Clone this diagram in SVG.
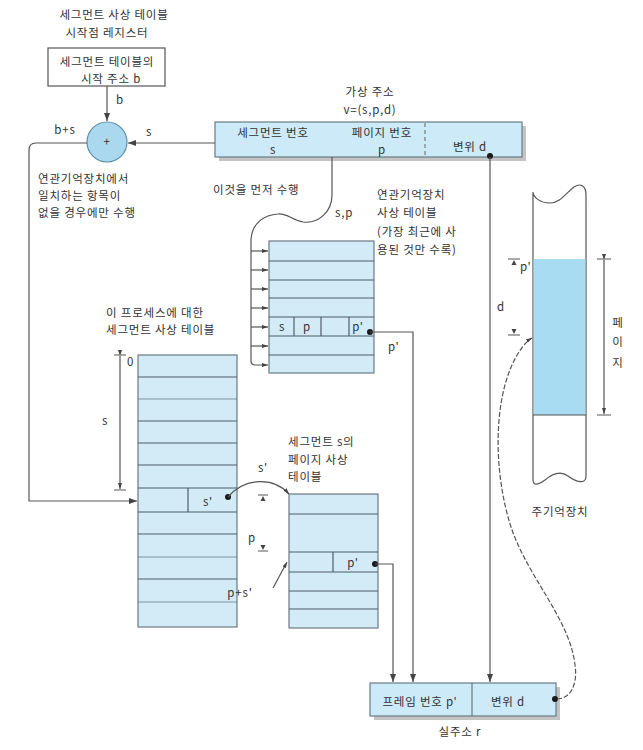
<svg xmlns="http://www.w3.org/2000/svg" width="643" height="750" viewBox="0 0 643 750">
<style>
.t{font-family:"Noto Sans CJK KR","Noto Sans",sans-serif;font-size:11.5px;letter-spacing:0.8px;fill:#333}
.tm{text-anchor:middle}
.ln{stroke:#555;stroke-width:1.2;fill:none}
.tbl{fill:#d2ebf7;stroke:#6a7a84;stroke-width:1.2}
.row{stroke:#4f5f6a;stroke-width:1.2}
.dot{fill:#1a1a1a}
.tick{stroke:#555;stroke-width:1}
.sh{fill:#c4c4c4}
</style>
<defs>
<marker id="ah" viewBox="0 0 8 6" refX="8" refY="3" markerWidth="8" markerHeight="6" markerUnits="userSpaceOnUse" orient="auto"><path d="M0,0 L8,3 L0,6 z" fill="#444"/></marker>
<marker id="ahs" viewBox="0 0 6 4" refX="6" refY="2" markerWidth="6" markerHeight="4" markerUnits="userSpaceOnUse" orient="auto"><path d="M0,0 L6,2 L0,4 z" fill="#444"/></marker>
</defs>
<rect width="643" height="750" fill="#fff"/>

<g id="register">
<text class="t tm" x="114" y="19">세그먼트 사상 테이블</text>
<text class="t tm" x="107" y="37">시작점 레지스터</text>
<rect x="48" y="48" width="117" height="38" fill="#fff" stroke="#555" stroke-width="1.2"/>
<text class="t tm" x="107" y="66">세그먼트 테이블의</text>
<text class="t tm" x="111" y="83">시작 주소 b</text>
</g>

<g id="adder">
<circle cx="107" cy="142" r="20" fill="#a9d8ef" stroke="#5d8ea6" stroke-width="1.2"/>
<text class="t tm" x="107" y="146">+</text>
<text class="t" x="38" y="183">연관기억장치에서</text>
<text class="t" x="38" y="200">일치하는 항목이</text>
<text class="t" x="38" y="217">없을 경우에만 수행</text>
</g>

<g id="virtual-address">
<text class="t tm" x="370" y="96">가상 주소</text>
<text class="t tm" x="370" y="114">v=(s,p,d)</text>
<rect class="sh" x="219" y="126" width="307" height="35"/>
<rect x="215" y="122" width="307" height="35" fill="#cceaf7" stroke="#6a7a84" stroke-width="1.2"/>
<line x1="425" y1="123" x2="425" y2="156" stroke="#666" stroke-width="1" stroke-dasharray="4,3"/>
<text class="t tm" x="273" y="137">세그먼트 번호</text>
<text class="t tm" x="273" y="154">s</text>
<text class="t tm" x="382" y="137">페이지 번호</text>
<text class="t tm" x="382" y="154">p</text>
<text class="t tm" x="470" y="151">변위 d</text>
<text class="t" x="213" y="194">이것을 먼저 수행</text>
</g>

<g id="associative-table">
<text class="t" x="377" y="199">연관기억장치</text>
<text class="t" x="377" y="217">사상 테이블</text>
<text class="t" x="377" y="236">(가장 최근에 사</text>
<text class="t" x="377" y="254">용된 것만 수록)</text>
<rect class="tbl" x="269" y="241" width="105" height="132"/>
<line class="row" x1="269" y1="261" x2="374" y2="261"/>
<line class="row" x1="269" y1="280" x2="374" y2="280"/>
<line class="row" x1="269" y1="298" x2="374" y2="298"/>
<line class="row" x1="269" y1="317" x2="374" y2="317"/>
<line class="row" x1="269" y1="336" x2="374" y2="336"/>
<line class="row" x1="269" y1="355" x2="374" y2="355"/>
<line class="row" x1="294" y1="317" x2="294" y2="336"/>
<line class="row" x1="321" y1="317" x2="321" y2="336"/>
<line class="row" x1="349" y1="317" x2="349" y2="336"/>
<text class="t tm" x="282" y="331">s</text>
<text class="t tm" x="307" y="331">p</text>
<text class="t tm" x="358" y="331">p'</text>
<circle class="dot" cx="370" cy="332" r="3"/>
</g>

<g id="segment-table">
<text class="t" x="106" y="317">이 프로세스에 대한</text>
<text class="t" x="106" y="334">세그먼트 사상 테이블</text>
<rect class="tbl" x="138" y="355" width="99" height="272"/>
<line class="row" x1="138" y1="377" x2="237" y2="377"/>
<line class="row" x1="138" y1="399" x2="237" y2="399" stroke-opacity="0.6"/>
<line class="row" x1="138" y1="421" x2="237" y2="421"/>
<line class="row" x1="138" y1="443" x2="237" y2="443"/>
<line class="row" x1="138" y1="465" x2="237" y2="465"/>
<line class="row" x1="138" y1="488" x2="237" y2="488"/>
<line class="row" x1="138" y1="512" x2="237" y2="512"/>
<line class="row" x1="138" y1="534" x2="237" y2="534"/>
<line class="row" x1="138" y1="557" x2="237" y2="557" stroke-opacity="0.6"/>
<line class="row" x1="138" y1="579" x2="237" y2="579"/>
<line class="row" x1="138" y1="602" x2="237" y2="602" stroke-opacity="0.6"/>
<line class="row" x1="188" y1="488" x2="188" y2="512"/>
<text class="t tm" x="208" y="506">s'</text>
<circle class="dot" cx="228" cy="497" r="3"/>
<line class="tick" x1="114" y1="355" x2="126" y2="355"/>
<line class="tick" x1="114" y1="490" x2="126" y2="490"/>
<line class="ln" x1="120" y1="356" x2="120" y2="489" marker-start="url(#ahs)" marker-end="url(#ahs)" stroke-width="1"/>
<text class="t" x="127" y="366">0</text>
<text class="t tm" x="105" y="425">s</text>
</g>

<g id="page-table">
<text class="t" x="288" y="446">세그먼트 s의</text>
<text class="t" x="288" y="464">페이지 사상</text>
<text class="t" x="288" y="481">테이블</text>
<rect class="tbl" x="289" y="494" width="89" height="134"/>
<line class="row" x1="289" y1="514" x2="378" y2="514"/>
<line class="row" x1="289" y1="552" x2="378" y2="552"/>
<line class="row" x1="289" y1="572" x2="378" y2="572"/>
<line class="row" x1="289" y1="591" x2="378" y2="591"/>
<line class="row" x1="289" y1="609" x2="378" y2="609"/>
<line class="row" x1="333" y1="552" x2="333" y2="572"/>
<text class="t tm" x="353" y="567">p'</text>
<circle class="dot" cx="375" cy="564" r="3"/>
<text class="t tm" x="263" y="472">s'</text>
<line class="tick" x1="258" y1="495" x2="268" y2="495"/>
<path d="M263,496 L260.5,501 L265.5,501 z" fill="#444"/>
<text class="t tm" x="252" y="542">p</text>
<path d="M263,550 L260.5,545 L265.5,545 z" fill="#444"/>
<line class="tick" x1="258" y1="551" x2="268" y2="551"/>
<text class="t tm" x="240" y="597">p+s'</text>
</g>

<g id="main-memory">
<path d="M533,192 L533,480 C533,487 540,484 545,480 C552,474 560,470 568,476 C576,482 586,485 586,476 L586,195 C586,185 580,183 574,187 C566,193 560,203 550,203 C540,203 533,197 533,192 Z" fill="#fff" stroke="#555" stroke-width="1.2"/>
<rect x="533.6" y="259" width="51.8" height="156" fill="#a8dcf2"/>
<line x1="533" y1="415" x2="586" y2="415" stroke="#555" stroke-width="1.2"/>
<line class="tick" x1="508" y1="259" x2="520" y2="259"/>
<path d="M514,260 L511.5,265 L516.5,265 z" fill="#444"/>
<text class="t" x="520" y="271">p'</text>
<text class="t" x="497" y="311">d</text>
<path d="M514,334 L511.5,329 L516.5,329 z" fill="#444"/>
<line class="tick" x1="508" y1="335" x2="520" y2="335"/>
<line class="tick" x1="597" y1="259" x2="611" y2="259"/>
<line class="tick" x1="597" y1="415" x2="611" y2="415"/>
<line class="ln" x1="604" y1="260" x2="604" y2="414" marker-start="url(#ahs)" marker-end="url(#ahs)" stroke-width="1"/>
<text class="t tm" x="618" y="327">페</text>
<text class="t tm" x="618" y="346">이</text>
<text class="t tm" x="618" y="367">지</text>
<text class="t tm" x="560" y="516">주기억장치</text>
</g>

<g id="real-address">
<rect class="sh" x="374" y="687" width="186" height="33"/>
<rect x="370" y="683" width="186" height="33" fill="#cceaf7" stroke="#6a7a84" stroke-width="1.2"/>
<line x1="472" y1="683" x2="472" y2="716" stroke="#6a7a84" stroke-width="1.2"/>
<text class="t tm" x="420" y="706">프레임 번호 p'</text>
<text class="t tm" x="508" y="706">변위 d</text>
<circle class="dot" cx="555" cy="699" r="3"/>
<text class="t tm" x="460" y="736">실주소 r</text>
</g>

<g id="connectors">
<line class="ln" x1="107" y1="86" x2="107" y2="121" marker-end="url(#ah)"/>
<text class="t" x="116" y="104">b</text>
<line class="ln" x1="215" y1="143" x2="128" y2="143" marker-end="url(#ah)"/>
<text class="t" x="146" y="136">s</text>
<text class="t tm" x="65" y="134">b+s</text>
<path class="ln" d="M87,143 L36,143 Q29,143 29,150 L29,501 L137,501" marker-end="url(#ah)"/>
<path class="ln" d="M332,157 L332,195 C332,212 318,224 303,222 C292,220 287,213 278,214 C265,215 252,222 251,240 L251,361 Q251,365 255,365 L268,365" marker-end="url(#ahs)"/>
<text class="t" x="335" y="217">s,p</text>
<line class="ln" x1="251" y1="251" x2="268" y2="251" marker-end="url(#ahs)"/>
<line class="ln" x1="251" y1="270" x2="268" y2="270" marker-end="url(#ahs)"/>
<line class="ln" x1="251" y1="289" x2="268" y2="289" marker-end="url(#ahs)"/>
<line class="ln" x1="251" y1="308" x2="268" y2="308" marker-end="url(#ahs)"/>
<line class="ln" x1="251" y1="327" x2="268" y2="327" marker-end="url(#ahs)"/>
<line class="ln" x1="251" y1="346" x2="268" y2="346" marker-end="url(#ahs)"/>
<circle class="dot" cx="490" cy="156" r="3"/>
<line class="ln" x1="490" y1="157" x2="490" y2="682" marker-end="url(#ah)"/>
<path class="ln" d="M370,332 L413,332 L413,682" marker-end="url(#ah)"/>
<text class="t" x="388" y="351">p'</text>
<path class="ln" d="M375,564 L393,564 L393,682" marker-end="url(#ah)"/>
<path class="ln" d="M228,497 C245,477 274,477 289,494" marker-end="url(#ahs)"/>
<line class="ln" x1="273" y1="588" x2="287" y2="562" marker-end="url(#ahs)"/>
<path class="ln" d="M557,699 C570,699 578,685 575,665 C570,620 530,580 512,530 C495,480 492,410 512,365 C518,352 525,342 532,338" stroke-dasharray="5,2" marker-end="url(#ahs)"/>
</g>
</svg>
